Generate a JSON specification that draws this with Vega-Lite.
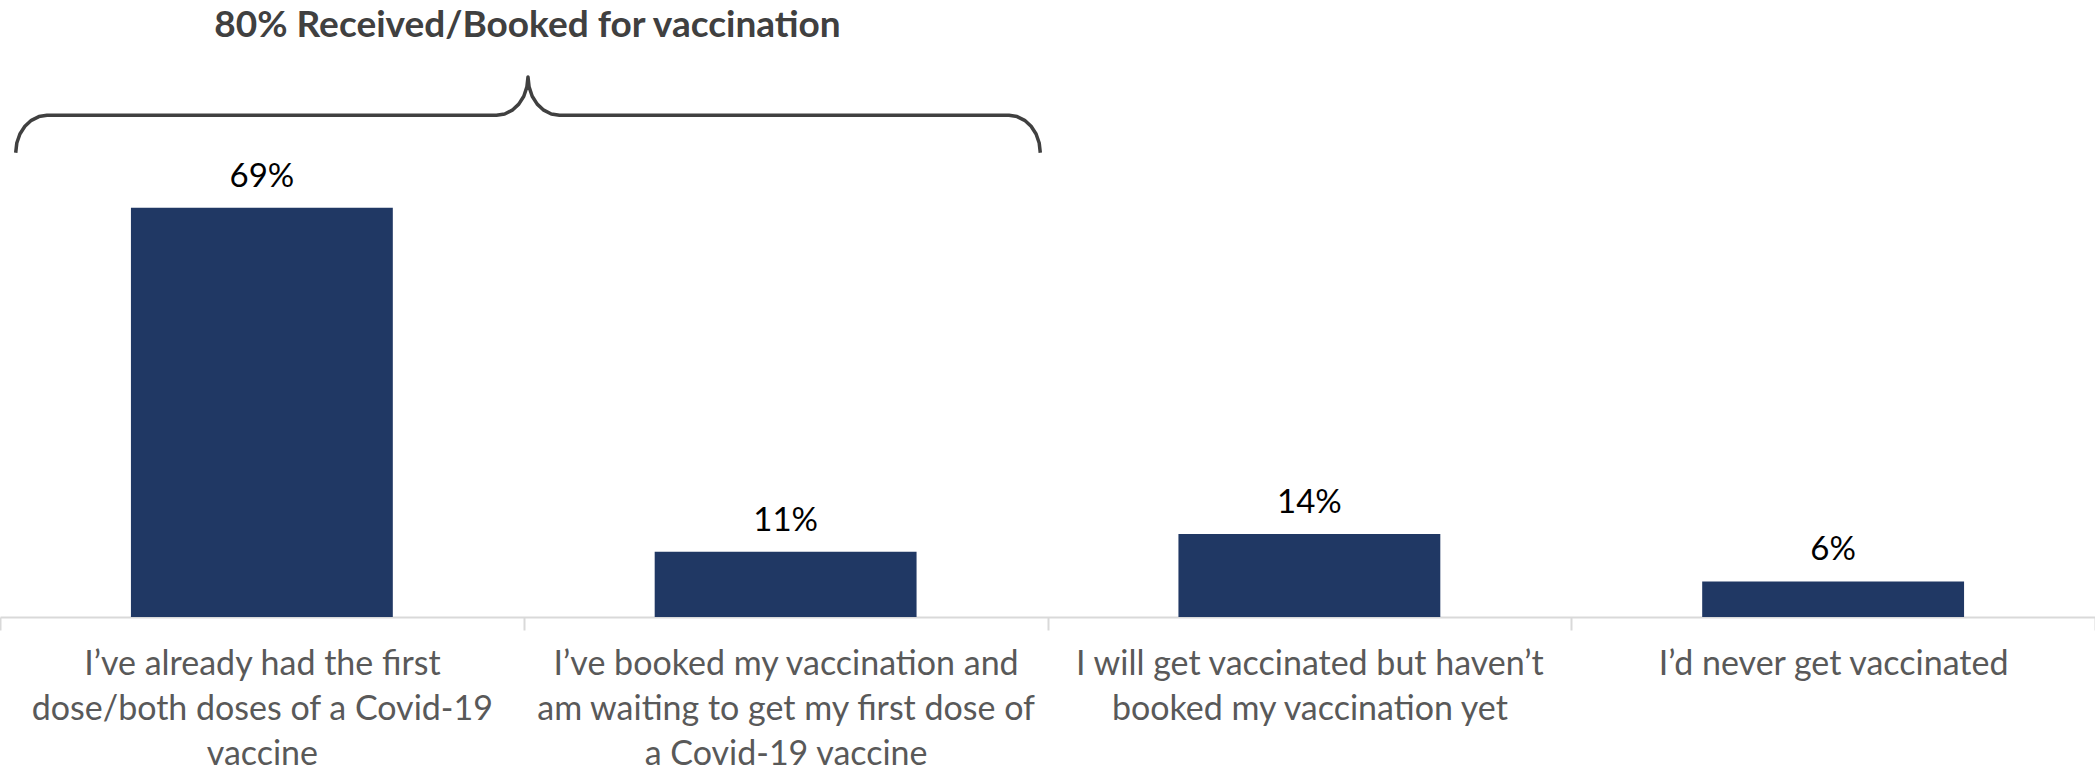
{
  "$schema": "https://vega.github.io/schema/vega-lite/v6.json",
  "width": 2095,
  "height": 617,
  "autosize": {"type": "none"},
  "padding": {"left": 0, "right": 0, "top": 0, "bottom": 156},
  "background": "white",
  "config": {"view": {"stroke": null}, "font": "Lato"},
  "datasets": {
    "bars": [
      {"category": "I’ve already had the first|dose/both doses of a Covid-19|vaccine", "share": 0.69},
      {"category": "I’ve booked my vaccination and|am waiting to get my first dose of|a Covid-19 vaccine", "share": 0.11},
      {"category": "I will get vaccinated but haven’t|booked my vaccination yet", "share": 0.14},
      {"category": "I’d never get vaccinated", "share": 0.06}
    ],
    "brace": [
      {"i": 1, "bx": 0.02998, "by": 0.7826},
      {"i": 2, "bx": 0.03208, "by": 0.7990},
      {"i": 3, "bx": 0.03800, "by": 0.8141},
      {"i": 4, "bx": 0.04754, "by": 0.8271},
      {"i": 5, "bx": 0.05986, "by": 0.8372},
      {"i": 6, "bx": 0.07427, "by": 0.8435},
      {"i": 7, "bx": 0.08974, "by": 0.8456},
      {"i": 8, "bx": 0.94797, "by": 0.8456},
      {"i": 9, "bx": 0.96363, "by": 0.8478},
      {"i": 10, "bx": 0.97804, "by": 0.8543},
      {"i": 11, "bx": 0.99055, "by": 0.8645},
      {"i": 12, "bx": 1.00010, "by": 0.8778},
      {"i": 13, "bx": 1.00601, "by": 0.8935},
      {"i": 14, "bx": 1.00811, "by": 0.9102},
      {"i": 15, "bx": 1.01021, "by": 0.8935},
      {"i": 16, "bx": 1.01613, "by": 0.8778},
      {"i": 17, "bx": 1.02568, "by": 0.8645},
      {"i": 18, "bx": 1.03819, "by": 0.8543},
      {"i": 19, "bx": 1.05260, "by": 0.8478},
      {"i": 20, "bx": 1.06826, "by": 0.8456},
      {"i": 21, "bx": 1.92649, "by": 0.8456},
      {"i": 22, "bx": 1.94196, "by": 0.8435},
      {"i": 23, "bx": 1.95637, "by": 0.8372},
      {"i": 24, "bx": 1.96869, "by": 0.8271},
      {"i": 25, "bx": 1.97823, "by": 0.8141},
      {"i": 26, "bx": 1.98415, "by": 0.7990},
      {"i": 27, "bx": 1.98625, "by": 0.7826}
    ],
    "note": [
      {"nx": 1.0072, "ny": 0.9777, "text": "80% Received/Booked for vaccination"}
    ]
  },
  "resolve": {"scale": {"x": "independent"}},
  "layer": [
    {
      "data": {"name": "bars"},
      "mark": {"type": "bar", "color": "#203864", "width": {"band": 0.5}},
      "encoding": {
        "x": {
          "field": "category", "type": "nominal", "sort": null,
          "scale": {"paddingInner": 0, "paddingOuter": 0},
          "axis": {
            "title": null,
            "labelAngle": 0,
            "labelExpr": "split(datum.label, '|')",
            "labelFont": "Lato",
            "labelFontSize": 34,
            "labelColor": "#595959",
            "labelLineHeight": 45,
            "labelPadding": 17,
            "labelBaseline": "top",
            "labelLimit": 0,
            "labelOverlap": false,
            "labelBound": false,
            "domainColor": "#d9d9d9",
            "domainWidth": 2,
            "tickColor": "#d9d9d9",
            "tickWidth": 2,
            "tickSize": 13,
            "tickBand": "extent"
          }
        },
        "y": {"field": "share", "type": "quantitative", "scale": {"domain": [0, 1.04]}, "axis": null}
      }
    },
    {
      "data": {"name": "bars"},
      "mark": {"type": "text", "baseline": "alphabetic", "dy": -21, "fontSize": 33, "color": "#000000", "font": "Lato"},
      "encoding": {
        "x": {"field": "category", "type": "nominal", "sort": null, "scale": {"paddingInner": 0, "paddingOuter": 0}, "axis": null},
        "y": {"field": "share", "type": "quantitative", "scale": {"domain": [0, 1.04]}, "axis": null},
        "text": {"field": "share", "type": "quantitative", "format": ".0%"}
      }
    },
    {
      "data": {"name": "brace"},
      "mark": {"type": "line", "color": "#404040", "strokeWidth": 3.5, "strokeJoin": "round"},
      "encoding": {
        "x": {"field": "bx", "type": "quantitative", "scale": {"domain": [0, 4], "nice": false, "zero": false}, "axis": null},
        "y": {"field": "by", "type": "quantitative", "scale": {"domain": [0, 1.04]}, "axis": null},
        "order": {"field": "i", "type": "quantitative"}
      }
    },
    {
      "data": {"name": "note"},
      "mark": {"type": "text", "baseline": "alphabetic", "align": "center", "fontSize": 37, "fontWeight": "bold", "color": "#404040", "font": "Lato"},
      "encoding": {
        "x": {"field": "nx", "type": "quantitative", "scale": {"domain": [0, 4], "nice": false, "zero": false}, "axis": null},
        "y": {"field": "ny", "type": "quantitative", "scale": {"domain": [0, 1.04]}, "axis": null},
        "text": {"field": "text", "type": "nominal"}
      }
    }
  ]
}
